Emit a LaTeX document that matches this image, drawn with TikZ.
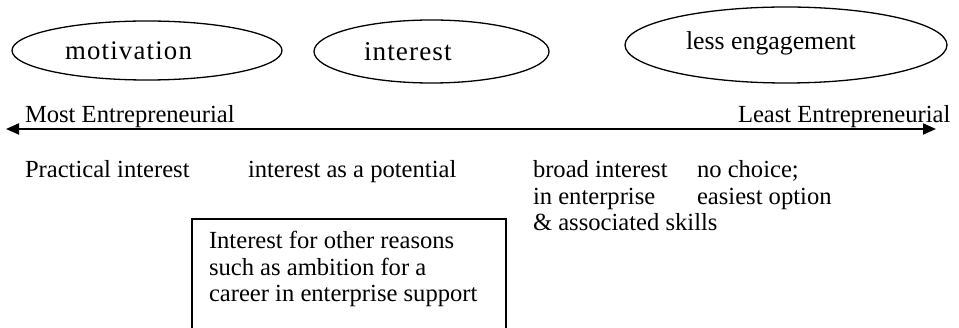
\documentclass[tikz,border=0pt]{standalone}
\usepackage{fontspec}
\setmainfont{Liberation Serif}
\newfontfamily\spacedA[LetterSpace=4.5]{Liberation Serif}
\newfontfamily\spacedB[LetterSpace=4]{Liberation Serif}
\usetikzlibrary{shapes.geometric,arrows.meta}
\begin{document}
\begin{tikzpicture}[x=1pt,y=-1pt,
  txt/.style={anchor=base west,inner sep=0pt,outer sep=0pt,font=\fontsize{24.6}{26.5}\selectfont,align=left},
  oval/.style={draw,ellipse,line width=1.3pt,inner sep=0pt},
  boxline/.style={draw,line width=1.2pt},
  axisarrow/.style={line width=1.8pt,{Triangle[length=13pt,width=11pt]}-{Triangle[length=13pt,width=11pt]}}]
\useasboundingbox (0,0) rectangle (959,328);
% ellipses
\node[oval,minimum width=270pt,minimum height=59pt] (e1) at (147,50.5) {};
\node[oval,minimum width=235pt,minimum height=63pt] (e2) at (431.5,51.5) {};
\node[oval,minimum width=322pt,minimum height=76pt] (e3) at (786,45) {};
\node[txt,font=\fontsize{26.8}{28}\spacedA] (t1) at (65,60) {motivation};
\node[txt,font=\fontsize{27.2}{28}\spacedB] (t2) at (364,61) {interest};
\node[txt,font=\fontsize{25.8}{27}\selectfont] (t3) at (686,50) {less engagement};
% scale arrow
\coordinate (aL) at (6,129);
\coordinate (aR) at (936,129);
\draw[axisarrow] (aL) -- (aR);
\node[txt] (most) at (25,122.5) {Most Entrepreneurial};
\node[txt] (least) at (738,122.5) {Least Entrepreneurial};
% categories (multi-line nodes: base = last line)
\node[txt] (c1) at (25,178) {Practical interest};
\node[txt] (c2) at (248,178) {interest as a potential};
\node[txt] (c3) at (533,231) {broad interest\\in enterprise\\\& associated skills};
\node[txt] (c4) at (697,204.5) {no choice;\\easiest option};
% open box
\node[txt] (bx) at (209,302) {Interest for other reasons\\such as ambition for a\\career in enterprise support};
\coordinate (b1) at (192,335);
\coordinate (b2) at (192,219);
\coordinate (b3) at (506,219);
\coordinate (b4) at (506,335);
\draw[boxline] (b1) -- (b2) -- (b3) -- (b4);
\end{tikzpicture}
\end{document}
